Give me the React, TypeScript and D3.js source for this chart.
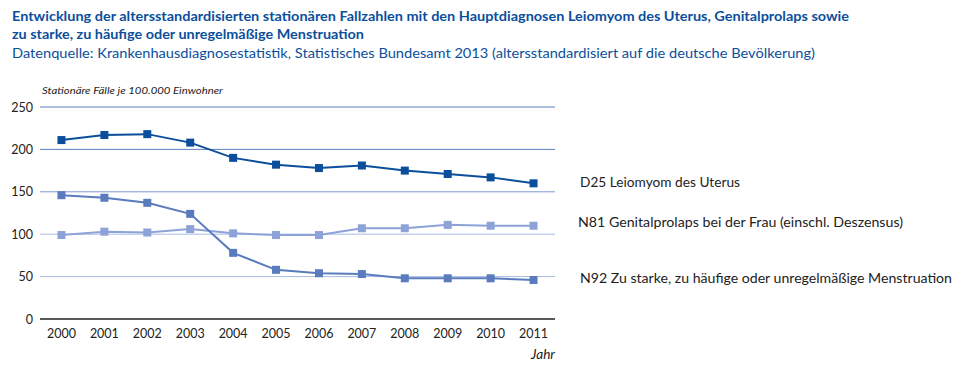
import React from 'react';
import * as d3 from 'd3';

const years = ['2000', '2001', '2002', '2003', '2004', '2005', '2006', '2007', '2008', '2009', '2010', '2011'];
const d25 = [211, 217, 218, 208, 190, 182, 178, 181, 175, 171, 167, 160];
const n81 = [99, 103, 102, 106, 101, 99, 99, 107, 107, 111, 110, 110];
const n92 = [146, 143, 137, 124, 78, 58, 54, 53, 48, 48, 48, 46];
const yTicks = [0, 50, 100, 150, 200, 250];

const series = [
  { name: 'D25 Leiomyom des Uterus', values: d25, color: '#0b4f9c', labelY: 187, labelX: 580, labelW: 160 },
  { name: 'N81 Genitalprolaps bei der Frau (einschl. Deszensus)', values: n81, color: '#8da2d6', labelY: 227, labelX: 578, labelW: 325 },
  { name: 'N92 Zu starke, zu häufige oder unregelmäßige Menstruation', values: n92, color: '#5a7bbd', labelY: 283, labelX: 580, labelW: 372 },
];

const gridColor: Record<number, string> = { 250: '#5d7fc0', 200: '#5d7fc0', 150: '#7e98cf', 100: '#a9bbe4', 50: '#a9bbe4' };

const W = 965, H = 374;
const plot = { left: 40, right: 555, top: 107, bottom: 319 };

export default function App() {
  const x = d3.scalePoint<string>().domain(years).range([plot.left, plot.right]).padding(0.5);
  const y = d3.scaleLinear().domain([0, 250]).range([plot.bottom, plot.top]);
  const line = d3.line<number>().x((_, i) => x(years[i])!).y(d => y(d));
  const font = 'Lato, "Open Sans", sans-serif';

  return (
    <svg width={W} height={H} style={{ position: 'absolute', left: 0, top: 0, background: '#fff' }} fontFamily={font}>
      {/* titles */}
      <text x={12} y={21} fontSize={13.5} fontWeight="bold" fill="#0b4f9c" textLength={837} lengthAdjust="spacingAndGlyphs">
        Entwicklung der altersstandardisierten stationären Fallzahlen mit den Hauptdiagnosen Leiomyom des Uterus, Genitalprolaps sowie
      </text>
      <text x={12} y={39} fontSize={13.5} fontWeight="bold" fill="#0b4f9c" textLength={352} lengthAdjust="spacingAndGlyphs">
        zu starke, zu häufige oder unregelmäßige Menstruation
      </text>
      <text x={12} y={58} fontSize={14} fill="#0b4f9c" textLength={803} lengthAdjust="spacingAndGlyphs">
        Datenquelle: Krankenhausdiagnosestatistik, Statistisches Bundesamt 2013 (altersstandardisiert auf die deutsche Bevölkerung)
      </text>
      <text x={42} y={94} fontSize={10} fontStyle="italic" fill="#222" textLength={181} lengthAdjust="spacingAndGlyphs">
        Stationäre Fälle je 100.000 Einwohner
      </text>

      {/* grid + y axis */}
      {yTicks.map(t => (
        <g key={t}>
          <line x1={plot.left} x2={plot.right} y1={y(t)} y2={y(t)}
            stroke={t === 0 ? '#222' : gridColor[t]} strokeWidth={t === 0 ? 1.3 : 1} />
          <text x={33} y={y(t) + 4.5} fontSize={12.5} textAnchor="end" fill="#222">{t}</text>
        </g>
      ))}

      {/* x axis labels */}
      {years.map(yr => (
        <text key={yr} x={x(yr)} y={338} fontSize={12.5} textAnchor="middle" fill="#222">{yr}</text>
      ))}
      <text x={531} y={359} fontSize={13} fontStyle="italic" fill="#222" textLength={24} lengthAdjust="spacingAndGlyphs">Jahr</text>

      {/* series */}
      {series.map(s => (
        <g key={s.name}>
          <path d={line(s.values) ?? ''} fill="none" stroke={s.color} strokeWidth={2} />
          {s.values.map((v, i) => (
            <rect key={i} x={x(years[i])! - 4} y={y(v) - 4} width={8} height={8} fill={s.color} />
          ))}
          <text x={s.labelX} y={s.labelY} fontSize={13} fill="#222" textLength={s.labelW} lengthAdjust="spacingAndGlyphs">
            {s.name}
          </text>
        </g>
      ))}
    </svg>
  );
}
